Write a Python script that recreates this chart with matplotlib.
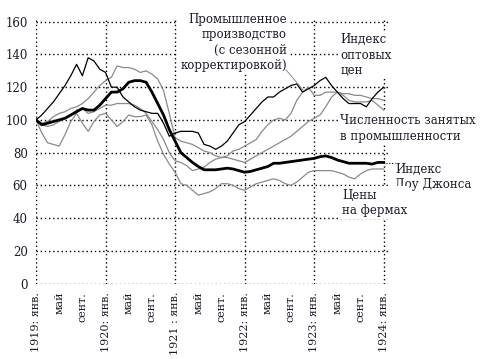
import matplotlib
matplotlib.use("Agg")
import matplotlib.pyplot as plt

# месяцы с января 1919 (0) по январь 1924 (60)
months = list(range(61))

tick_pos = [0, 4, 8, 12, 16, 20, 24, 28, 32, 36, 40, 44, 48, 52, 56, 60]
tick_labels = ['1919: янв.', 'май', 'сент.', '1920: янв.', 'май', 'сент.',
               '1921 : янв.', 'май', 'сент.', '1922: янв.', 'май', 'сент.',
               '1923: янв.', 'май', 'сент.', '1924: янв.']

wholesale = [100, 103, 107, 111, 116, 121, 127, 134, 127, 138, 136, 131,
             129, 120, 120, 114, 111, 108, 106, 105, 104, 104, 98, 90,
             92, 93, 93, 93, 92, 85, 84, 82, 84, 87, 92, 97,
             99, 103, 107, 111, 114, 114, 117, 119, 121, 122, 117, 119,
             121, 124, 126, 121, 117, 113, 110, 110, 110, 108, 113, 117, 120]

dow = [100, 97, 98, 99, 100, 101, 103, 105, 107, 106, 106, 109,
       113, 117, 117, 119, 123, 124, 124, 123, 117, 110, 103, 94,
       87, 80, 77, 74, 71.5, 69.5, 69.5, 69.5, 70, 70.5, 70, 69,
       68, 68.5, 69.5, 70.5, 71.5, 73.5, 73.5, 74, 74.5, 75, 75.5, 76,
       76.5, 77.5, 78, 77, 75.5, 74.5, 73.5, 73.5, 73.5, 73.5, 73, 74, 74]

production = [100, 98, 99, 102, 104, 105, 107, 108, 110, 113, 117, 121,
              124, 126, 133, 132, 132, 131, 129, 130, 128, 125, 118, 104,
              89, 87, 86, 85, 83, 81, 80, 78, 77, 78, 81, 82,
              84, 86, 88, 93, 97, 100, 101, 100, 104, 112, 117, 120,
              115, 115, 117, 117, 117, 116, 116, 115, 115, 114, 113, 113, 112]

employment = [100, 97, 96, 97, 99, 101, 103, 106, 107, 104, 105, 107,
              109, 109, 110, 110, 110, 109, 107, 104, 99, 94, 88, 80,
              75, 74, 72, 69, 70, 71, 74, 76, 77, 77, 76, 75,
              74, 76, 78, 80, 82, 84, 86, 88, 90, 93, 96, 99,
              101, 103, 108, 114, 117, 115, 112, 111, 111, 111, 112, 109, 106]

farm = [100, 92, 86, 85, 84, 91, 99, 104, 98, 93, 99, 103,
        104, 100, 96, 99, 103, 102, 102, 103, 97, 87, 79, 73,
        68, 61, 60, 57, 54, 55, 56, 58, 61, 61, 60, 58,
        57, 59, 61, 62, 63, 64, 63, 61, 60, 62, 65, 68,
        69, 69, 69, 69, 68, 67, 65, 64, 67, 69, 70, 70, 70]

serif = 'DejaVu Serif'
txt_col = '#1c1c2a'
gray = '#8a8a8a'

fig = plt.figure(figsize=(4.88, 3.59), dpi=100)
ax = fig.add_axes([0.0738, 0.2103, 0.7232, 0.7337])

# сетка
for v in range(0, 161, 20):
    ax.axhline(v, color='black', lw=1.0, ls=(0, (1, 2)), zorder=1)
for m in [0, 12, 24, 36, 48, 60]:
    ax.axvline(m, color='black', lw=1.0, ls=(0, (1, 2)), zorder=1)

ax.plot(months, farm, color=gray, lw=0.9, zorder=3)
ax.plot(months, employment, color=gray, lw=0.9, zorder=3)
ax.plot(months, production, color=gray, lw=0.9, zorder=3)
ax.plot(months, wholesale, color='black', lw=0.9, zorder=4)
ax.plot(months, dow, color='black', lw=2.0, zorder=5)

ax.set_xlim(0, 60.9)
ax.set_ylim(0, 161)
ax.set_yticks(range(0, 161, 20))
ax.set_yticklabels([str(v) for v in range(0, 161, 20)], family=serif,
                   fontsize=8.5, color=txt_col)
ax.set_xticks(tick_pos)
ax.set_xticklabels(tick_labels, rotation=90, family=serif, fontsize=8,
                   color=txt_col, va='top', ha='center')
ax.tick_params(length=0, pad=6)
for s in ax.spines.values():
    s.set_visible(False)

box = dict(facecolor='white', edgecolor='none', pad=1.5)
kw = dict(family=serif, fontsize=8.5, color=txt_col, linespacing=1.25,
          zorder=6, bbox=box, clip_on=False)

ax.text(43.3, 165.5, 'Промышленное\nпроизводство\n(с сезонной\nкорректировкой)',
        ha='right', va='top', **kw)
ax.annotate('', xy=(46.4, 117), xytext=(42.8, 132),
            arrowprops=dict(arrowstyle='-', color=gray, lw=0.7), zorder=6)
ax.text(52.5, 153, 'Индекс\nоптовых\nцен', ha='left', va='top', **kw)
ax.text(52.5, 103.5, 'Численность занятых\nв промышленности',
        ha='left', va='top', **kw)
ax.text(62.0, 74, 'Индекс\nДоу Джонса', ha='left', va='top', **kw)
ax.plot([60.4, 62.0], [73.8, 73.8], color='black', lw=0.8, ls=(0, (1, 1.5)),
        clip_on=False, zorder=6)
ax.text(52.8, 58, 'Цены\nна фермах', ha='left', va='top', **kw)

fig.savefig('out.png', dpi=100)
